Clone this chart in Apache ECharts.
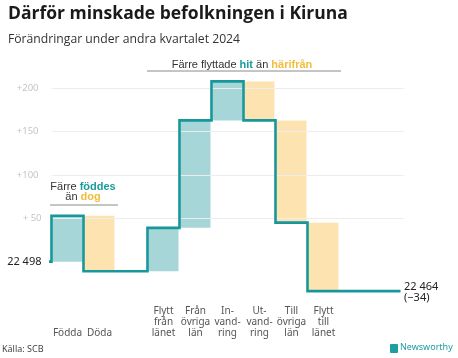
<!DOCTYPE html>
<html>
<head>
<meta charset="utf-8">
<script src="https://cdn.jsdelivr.net/npm/echarts@6/dist/echarts.min.js"></script>
<style>
html,body{margin:0;padding:0;background:#fff;}
#chart{width:458px;height:358px;}
</style>
</head>
<body>
<div id="chart"></div>
<script>
const categories = ["Födda", "Döda", "", "Flytt\nfrån\nlänet", "Från\növriga\nlän", "In-\nvand-\nring", "Ut-\nvand-\nring", "Till\növriga\nlän", "Flytt\ntill\nlänet", "", ""];
const changes = [53, -64, null, 50, 124, 45, -45, -118, -79, null, null];
const startPopulation = "22 498";
const endPopulation = "22 464";
const netChange = "(−34)";
const yTicks = [50, 100, 150, 200];
const yTickLabels = ["+ 50", "+100", "+150", "+200"];

const TEAL = "#17979a";
const TEAL_FILL = "#a6d6d7";
const ORANGE_FILL = "#fde3b0";
const TEAL_TEXT = "#1a9c9c";
const ORANGE_TEXT = "#f2bd3c";

// cumulative levels
const levels = [];
const barData = [];
let cur = 0;
changes.forEach((c, i) => {
  if (c !== null) {
    barData.push([i, cur, cur + c]);
    cur += c;
  }
  levels.push(cur);
});

const chart = echarts.init(document.getElementById('chart'), null, {renderer: 'canvas'});

const option = {
  animation: false,
  grid: {left: 51.5, right: 54.5, top: 45, bottom: 53, containLabel: false},
  xAxis: {
    type: 'category',
    data: categories,
    boundaryGap: true,
    axisLine: {show: false},
    axisTick: {show: false},
    axisLabel: {
      interval: 0,
      verticalAlign: 'bottom',
      margin: 34,
      fontFamily: 'Noto Sans',
      fontSize: 10,
      lineHeight: 11,
      color: '#555'
    }
  },
  yAxis: {
    type: 'value',
    min: -50,
    max: 250,
    interval: 50,
    splitLine: {show: false},
    axisLine: {show: false},
    axisTick: {show: false},
    axisLabel: {
      margin: 10,
      formatter: function (v) {
        if (v === 0) return '{s|' + startPopulation + '}';
        const k = yTicks.indexOf(v);
        if (k === 0) return '{f|' + yTickLabels[k] + '}';
        return k >= 0 ? '{t|' + yTickLabels[k] + '}' : '';
      },
      rich: {
        s: {fontFamily: 'Noto Sans', fontSize: 11, color: '#222'},
        f: {fontFamily: 'Noto Sans', fontSize: 9.5, color: '#c4c4c4'},
        t: {fontFamily: 'Noto Sans', fontSize: 9.5, color: '#c4c4c4', padding: [0, 3, 0, 0]}
      }
    }
  },
  series: [
    {
      type: 'line',
      data: [],
      silent: true,
      markLine: {
        symbol: ['none', 'none'],
        silent: true,
        label: {show: false},
        lineStyle: {color: '#ededed', width: 1, type: 'solid'},
        data: yTicks.map(v => ({yAxis: v}))
      }
    },
    {
      type: 'custom',
      data: barData,
      encode: {x: 0, y: [1, 2]},
      renderItem: function (params, api) {
        const i = api.value(0), a = api.value(1), b = api.value(2);
        const p1 = api.coord([i, a]);
        const p2 = api.coord([i, b]);
        const w = api.size([1, 0])[0];
        const bw = w - 2;
        return {
          type: 'rect',
          shape: {x: p1[0] - bw / 2, y: Math.min(p1[1], p2[1]), width: bw, height: Math.abs(p1[1] - p2[1])},
          style: {fill: b >= a ? TEAL_FILL : ORANGE_FILL}
        };
      }
    },
    {
      type: 'custom',
      data: [[0, 0]],
      z: 5,
      renderItem: function (params, api) {
        const w = api.size([1, 0])[0];
        const pts = [];
        const y0 = api.coord([0, 0])[1];
        const x0 = api.coord([0, 0])[0] - w / 2;
        pts.push([x0 - 2.5, y0]);
        pts.push([x0, y0]);
        levels.forEach((lv, i) => {
          const c = api.coord([i, lv]);
          const xl = c[0] - w / 2, xr = c[0] + w / 2;
          pts.push([xl, c[1]]);
          pts.push([i === levels.length - 1 ? xr - 3 : xr, c[1]]);
        });
        return {
          type: 'polyline',
          shape: {points: pts},
          style: {stroke: TEAL, lineWidth: 2.6, fill: null, lineJoin: 'miter'}
        };
      }
    }
  ],
  graphic: [
    {type: 'text', left: 8, top: 5, style: {text: 'Därför minskade befolkningen i Kiruna', fontFamily: 'Open Sans', fontWeight: 'bold', fontSize: 17.5, fill: '#1a1a1a'}},
    {type: 'text', left: 8, top: 34, style: {text: 'Förändringar under andra kvartalet 2024', fontFamily: 'Open Sans', fontSize: 12.2, fill: '#333'}},
    {type: 'text', x: 242, y: 65, style: {
      text: 'Färre flyttade {h|hit} än {r|härifrån}', align: 'center', verticalAlign: 'middle',
      fontFamily: 'Liberation Sans', fontSize: 11, fill: '#333',
      rich: {h: {fontFamily: 'Liberation Sans', fontSize: 11, fontWeight: 'bold', fill: TEAL_TEXT}, r: {fontFamily: 'Liberation Sans', fontSize: 11, fontWeight: 'bold', fill: ORANGE_TEXT}}
    }},
    {type: 'line', shape: {x1: 147, y1: 71, x2: 341, y2: 71}, style: {stroke: '#8a8a8a', lineWidth: 1}},
    {type: 'text', x: 83, y: 192, style: {
      text: 'Färre {h|föddes}\nän {r|dog}', align: 'center', verticalAlign: 'middle', lineHeight: 10.5,
      fontFamily: 'Liberation Sans', fontSize: 11, fill: '#333',
      rich: {h: {fontFamily: 'Liberation Sans', fontSize: 11, fontWeight: 'bold', fill: TEAL_TEXT, lineHeight: 10.5}, r: {fontFamily: 'Liberation Sans', fontSize: 11, fontWeight: 'bold', fill: ORANGE_TEXT, lineHeight: 10.5}}
    }},
    {type: 'line', shape: {x1: 50, y1: 205, x2: 118, y2: 205}, style: {stroke: '#8a8a8a', lineWidth: 1}},
    {type: 'text', left: 404, top: 281.5, style: {text: endPopulation + '\n' + netChange, fontFamily: 'Noto Sans', fontSize: 11, lineHeight: 10.5, fill: '#222'}},
    {type: 'text', left: 2, top: 345, style: {text: 'Källa: SCB', fontFamily: 'Noto Sans', fontSize: 9, fill: '#444'}},
    {type: 'rect', shape: {x: 390, y: 344, width: 8, height: 9, r: 1}, style: {fill: '#1f9ea0'}},
    {type: 'text', left: 400, top: 342.5, style: {text: 'Newsworthy', fontFamily: 'Noto Sans', fontSize: 9, fill: '#1f9ea0'}}
  ]
};
chart.setOption(option);
</script>
</body>
</html>
